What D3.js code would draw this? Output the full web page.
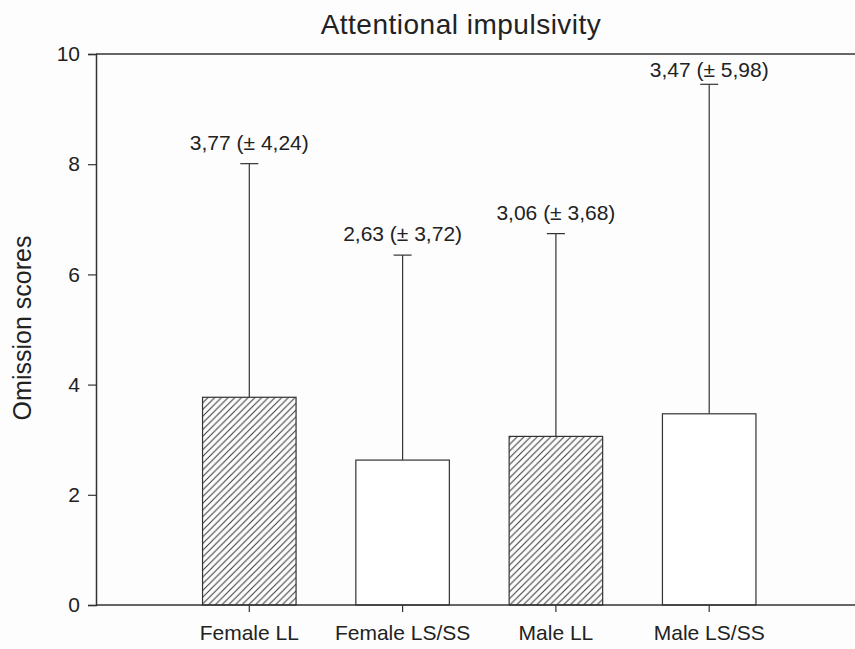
<!DOCTYPE html>
<html>
<head>
<meta charset="utf-8">
<script src="https://cdn.jsdelivr.net/npm/d3@7"></script>
<style>
  body { margin: 0; background: #fdfdfe; }
  svg { display: block; font-family: "Liberation Sans", Arial, sans-serif; }
</style>
</head>
<body>
<svg id="chart" width="855" height="649"></svg>
<script>
// data
const categories = ["Female LL", "Female LS/SS", "Male LL", "Male LS/SS"];
const means = [3.77, 2.63, 3.06, 3.47];
const sds = [4.24, 3.72, 3.68, 5.98];
const hatched = [true, false, true, false];
const yTicks = [0, 2, 4, 6, 8, 10];

const width = 855, height = 649;
const margin = { top: 54, right: 0, bottom: 44, left: 96 };
const plotW = width - margin.left - margin.right;
const FONT = "Liberation Sans, Arial, sans-serif";

const svg = d3.select("#chart");

// hatch pattern for LL groups
svg.append("defs").append("pattern")
  .attr("id", "hatch")
  .attr("patternUnits", "userSpaceOnUse")
  .attr("width", 6.7).attr("height", 6.7)
  .append("path")
  .attr("d", "M0,6.7 L6.7,0 M-1,1 L1,-1 M5.7,7.7 L7.7,5.7")
  .attr("stroke", "#333").attr("stroke-width", 1);

const g = svg.append("g").attr("transform", `translate(${margin.left},${margin.top})`);
const innerH = height - margin.top - margin.bottom;

const step = 153.3;
const x = d3.scaleBand()
  .domain(categories)
  .range([step * 0.5, step * 4.5])
  .paddingInner(0.39)
  .paddingOuter(0.195);

const y = d3.scaleLinear().domain([0, 10]).range([innerH, 0]);

// frame top line
g.append("line")
  .attr("x1", 0).attr("x2", plotW)
  .attr("y1", y(10)).attr("y2", y(10))
  .attr("stroke", "#333").attr("stroke-width", 1.5);

const rows = categories.map((c, i) => ({ c, m: means[i], sd: sds[i], h: hatched[i] }));
const cx = d => x(d.c) + x.bandwidth() / 2;

// error bars (upper only)
g.selectAll(".err").data(rows).enter().append("line")
  .attr("x1", cx).attr("x2", cx)
  .attr("y1", d => y(d.m))
  .attr("y2", d => y(d.m + d.sd))
  .attr("stroke", "#333").attr("stroke-width", 1.2);

g.selectAll(".cap").data(rows).enter().append("line")
  .attr("x1", d => cx(d) - 9)
  .attr("x2", d => cx(d) + 9)
  .attr("y1", d => y(d.m + d.sd))
  .attr("y2", d => y(d.m + d.sd))
  .attr("stroke", "#333").attr("stroke-width", 1.2);

// bars
g.selectAll(".bar").data(rows).enter().append("rect")
  .attr("x", d => x(d.c))
  .attr("y", d => y(d.m))
  .attr("width", x.bandwidth())
  .attr("height", d => y(0) - y(d.m))
  .attr("fill", d => d.h ? "url(#hatch)" : "#fff")
  .attr("stroke", "#333").attr("stroke-width", 1.2);

// value labels (kept inside the frame)
const fmt = v => v.toFixed(2).replace(".", ",");
g.selectAll(".lbl").data(rows).enter().append("text")
  .attr("x", cx)
  .attr("y", d => Math.max(y(d.m + d.sd) - 14, y(10) + 23))
  .attr("text-anchor", "middle")
  .attr("font-size", 21)
  .attr("fill", "#222")
  .text(d => `${fmt(d.m)} (± ${fmt(d.sd)})`);

// y axis
const yAxis = g.append("g")
  .call(d3.axisLeft(y).tickValues(yTicks).tickSize(8).tickPadding(8).tickFormat(d3.format("d")));
yAxis.select(".domain").attr("stroke", "#333").attr("stroke-width", 1.5);
yAxis.selectAll(".tick line").attr("stroke", "#333").attr("stroke-width", 1.2);
yAxis.selectAll("text").attr("font-size", 21).attr("fill", "#222").attr("font-family", FONT);

// x axis
const xAxis = g.append("g")
  .attr("transform", `translate(0,${innerH})`)
  .call(d3.axisBottom(x).tickSize(7).tickPadding(13));
xAxis.select(".domain").attr("d", `M0,0H${plotW}`).attr("stroke", "#333").attr("stroke-width", 1.5);
xAxis.selectAll(".tick line").attr("stroke", "#333").attr("stroke-width", 1.2);
xAxis.selectAll("text").attr("font-size", 21).attr("fill", "#222").attr("font-family", FONT);

// title
svg.append("text")
  .attr("x", 461).attr("y", 34)
  .attr("text-anchor", "middle")
  .attr("font-size", 28)
  .attr("letter-spacing", 0.5)
  .attr("fill", "#222")
  .text("Attentional impulsivity");

// y label
svg.append("text")
  .attr("transform", "translate(31,328) rotate(-90)")
  .attr("text-anchor", "middle")
  .attr("font-size", 25)
  .attr("fill", "#222")
  .text("Omission scores");
</script>
</body>
</html>
